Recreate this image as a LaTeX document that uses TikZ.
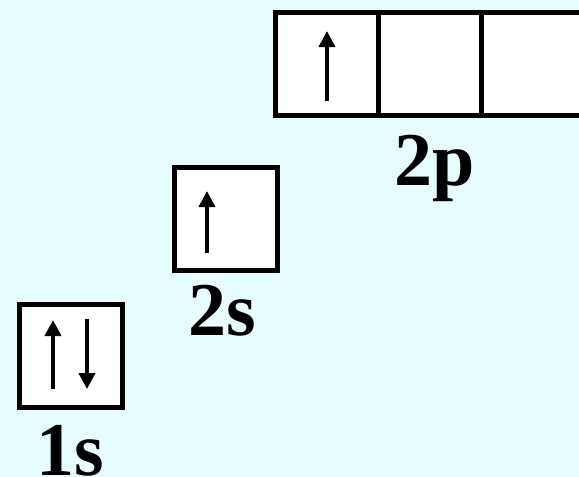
\documentclass[tikz,border=0pt]{standalone}
\usepackage{fontspec}
\setmainfont{Liberation Serif}
\usetikzlibrary{arrows.meta}
\definecolor{bgcyan}{HTML}{E6FCFD}
\begin{document}
\begin{tikzpicture}[x=1pt,y=-1pt,
  orb/.style={draw=black,fill=white,line width=5pt,minimum width=103pt,minimum height=103pt,inner sep=0pt,outer sep=0pt},
  lbl/.style={anchor=base,inner sep=0pt,font=\fontsize{76}{76}\selectfont\bfseries},
  spin/.style={line width=4pt,-{Triangle[length=16pt,width=16pt]}}]
\fill[bgcyan] (0,0) rectangle (579,477);
\useasboundingbox (0,0) rectangle (579,477);
% 1s
\node[orb] (s1) at (71,355.5) {};
\coordinate (s1ub) at (53,389); \coordinate (s1ut) at (53,320);
\coordinate (s1dt) at (87,319); \coordinate (s1db) at (87,389);
\draw[spin] (s1ub) -- (s1ut);
\draw[spin] (s1dt) -- (s1db);
\node[lbl] (l1) at (70,475) {1s};
% 2s
\node[orb] (s2) at (225.5,218.5) {};
\coordinate (s2b) at (207,253); \coordinate (s2t) at (207,191);
\draw[spin] (s2b) -- (s2t);
\node[lbl] (l2) at (222,335) {2s};
% 2p
\node[orb] (p1) at (326.5,64) {};
\node[orb] (p2) at (429.5,64) {};
\node[orb] (p3) at (532.5,64) {};
\coordinate (pb) at (327,101); \coordinate (pt) at (327,31);
\draw[spin] (pb) -- (pt);
\node[lbl] (l3) at (435,185) {2p};
\end{tikzpicture}
\end{document}
